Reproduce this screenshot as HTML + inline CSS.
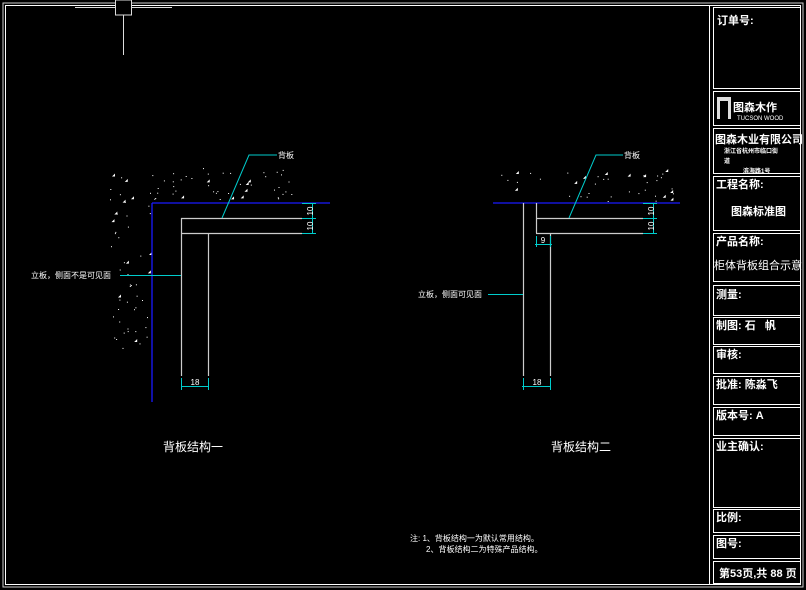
<!DOCTYPE html>
<html><head><meta charset="utf-8"><style>
html,body{margin:0;padding:0;background:#000;}
svg{display:block;}
text{font-family:"Liberation Sans","Noto Sans CJK SC",sans-serif;fill:#fff;}
.tb{font-weight:bold;font-size:11px;}
</style></head><body>
<svg id="s" width="806" height="590" viewBox="0 0 806 590" xmlns="http://www.w3.org/2000/svg">
<rect width="806" height="590" fill="#000"/>
<rect x="3" y="3" width="800" height="584" fill="none" stroke="#ccc" stroke-width="1"/>
<rect x="5.5" y="5.5" width="795" height="579" fill="none" stroke="#fff" stroke-width="1"/>
<line x1="75" y1="7.5" x2="172" y2="7.5" stroke="#ddd"/>
<rect x="115.5" y="0" width="16" height="15" fill="#000" stroke="#ddd"/>
<line x1="123.5" y1="15" x2="123.5" y2="55" stroke="#ddd"/>
<line x1="709.5" y1="5" x2="709.5" y2="585" stroke="#fff"/>
<g fill="none" stroke="#fff" stroke-width="1">
<rect x="713.5" y="7.5" width="87" height="81"/>
<rect x="713.5" y="91.5" width="87" height="34"/>
<rect x="713.5" y="128.5" width="87" height="45"/>
<rect x="713.5" y="176.5" width="87" height="54"/>
<rect x="713.5" y="233.5" width="87" height="48"/>
<rect x="713.5" y="285.5" width="87" height="30"/>
<rect x="713.5" y="317.5" width="87" height="27"/>
<rect x="713.5" y="346.5" width="87" height="27"/>
<rect x="713.5" y="376.5" width="87" height="28"/>
<rect x="713.5" y="407.5" width="87" height="28"/>
<rect x="713.5" y="438.5" width="87" height="69"/>
<rect x="713.5" y="509.5" width="87" height="23"/>
<rect x="713.5" y="535.5" width="87" height="23"/>
<rect x="713.5" y="561.5" width="87" height="22"/>
</g>
<text x="717" y="24" class="tb">订单号:</text>
<rect x="717" y="97" width="14" height="22" fill="#ddd"/>
<rect x="720" y="101" width="8" height="18" fill="#000"/>
<text x="733" y="111" class="tb" font-size="13">图森木作</text>
<text x="737" y="120" font-size="6">TUCSON WOOD</text>
<text x="715" y="143" font-size="11" font-weight="bold">图森木业有限公司</text>
<text x="724" y="153" font-size="6" font-weight="bold" fill="#dde">浙江省杭州市临口街</text>
<text x="724" y="163" font-size="6" font-weight="bold" fill="#dde">道</text>
<text x="743" y="173" font-size="6" font-weight="bold" fill="#dde">滨海路1号</text>
<text x="716" y="188" class="tb">工程名称:</text>
<text x="731" y="215" class="tb">图森标准图</text>
<text x="716" y="245" class="tb">产品名称:</text>
<text x="714" y="269" font-size="11">柜体背板组合示意</text>
<text x="716" y="298" class="tb">测量:</text>
<text x="716" y="329" class="tb">制图: 石&#160;&#160;&#160;帆</text>
<text x="716" y="358" class="tb">审核:</text>
<text x="716" y="388" class="tb">批准: 陈淼飞</text>
<text x="716" y="419" class="tb">版本号: A</text>
<text x="716" y="450" class="tb">业主确认:</text>
<text x="716" y="521" class="tb">比例:</text>
<text x="716" y="547" class="tb">图号:</text>
<text x="719" y="577" class="tb" font-size="10">第53页,共 88 页</text>

<g id="dots" fill="#fff"></g>

<g stroke="#1a1aff" stroke-width="1.3"><line x1="152" y1="203" x2="152" y2="402"/><line x1="152" y1="203" x2="330" y2="203"/></g>
<g stroke="#ccc" stroke-width="1.2" fill="none">
<line x1="181" y1="218.5" x2="302" y2="218.5"/><line x1="181" y1="233.5" x2="302" y2="233.5"/>
<line x1="181.5" y1="218" x2="181.5" y2="376"/><line x1="208.5" y1="233" x2="208.5" y2="376"/>
</g>
<g stroke="#0cc" stroke-width="1">
<line x1="312.5" y1="203" x2="312.5" y2="233"/>
<line x1="302" y1="203.5" x2="316" y2="203.5"/><line x1="302" y1="218.5" x2="316" y2="218.5"/><line x1="302" y1="233.5" x2="316" y2="233.5"/>
<line x1="181" y1="386.5" x2="209" y2="386.5"/><line x1="181.5" y1="378" x2="181.5" y2="390"/><line x1="208.5" y1="378" x2="208.5" y2="390"/>
<polyline points="222,218 249,155 277,155" fill="none"/>
<line x1="120" y1="275.5" x2="181" y2="275.5"/>
</g>
<text x="278" y="158" font-size="8">背板</text>
<text x="310" y="214" font-size="8" transform="rotate(-90 310 214)" text-anchor="middle" dy="3" dx="3">10</text>
<text x="310" y="229" font-size="8" transform="rotate(-90 310 229)" text-anchor="middle" dy="3" dx="3">10</text>
<text x="195" y="385" font-size="8" text-anchor="middle">18</text>
<text x="31" y="278" font-size="8">立板，侧面不是可见面</text>
<text x="163" y="451" font-size="12">背板结构一</text>

<line x1="493" y1="203" x2="680" y2="203" stroke="#1a1aff" stroke-width="1.3"/>
<g stroke="#ccc" stroke-width="1.2" fill="none">
<line x1="523.5" y1="203" x2="523.5" y2="376"/><line x1="550.5" y1="233" x2="550.5" y2="376"/>
<line x1="536.5" y1="203" x2="536.5" y2="233"/>
<line x1="536" y1="218.5" x2="643" y2="218.5"/><line x1="536" y1="233.5" x2="643" y2="233.5"/>
</g>
<g stroke="#0cc" stroke-width="1">
<line x1="653.5" y1="203" x2="653.5" y2="233"/>
<line x1="643" y1="203.5" x2="657" y2="203.5"/><line x1="643" y1="218.5" x2="657" y2="218.5"/><line x1="643" y1="233.5" x2="657" y2="233.5"/>
<line x1="535" y1="244.5" x2="552" y2="244.5"/><line x1="536.5" y1="236" x2="536.5" y2="247"/><line x1="550.5" y1="236" x2="550.5" y2="247"/>
<line x1="522" y1="386.5" x2="551" y2="386.5"/><line x1="523.5" y1="378" x2="523.5" y2="390"/><line x1="550.5" y1="378" x2="550.5" y2="390"/>
<polyline points="569,218 596,155 623,155" fill="none"/>
<line x1="488" y1="294.5" x2="523" y2="294.5"/>
</g>
<text x="624" y="158" font-size="8">背板</text>
<text x="651" y="214" font-size="8" transform="rotate(-90 651 214)" text-anchor="middle" dy="3" dx="3">10</text>
<text x="651" y="229" font-size="8" transform="rotate(-90 651 229)" text-anchor="middle" dy="3" dx="3">10</text>
<text x="543" y="243" font-size="8" text-anchor="middle">9</text>
<text x="537" y="385" font-size="8" text-anchor="middle">18</text>
<text x="418" y="297" font-size="8">立板，侧面可见面</text>
<text x="551" y="451" font-size="12">背板结构二</text>

<text x="410" y="541" font-size="8">注:  1、背板结构一为默认常用结构。</text>
<text x="426" y="552" font-size="8">2、背板结构二为特殊产品结构。</text>
</svg>
<script>
(function(){
var s=7,g=document.getElementById('dots'),h='';
function r(){s=(s*16807)%2147483647;return s/2147483647;}
function add(x0,x1,y0,y1,n){for(var i=0;i<n;i++){var x=x0+r()*(x1-x0),y=y0+r()*(y1-y0);
 if(r()<0.2){h+='<polygon points="'+x+','+y+' '+(x+3)+','+(y-3)+' '+(x+3)+','+y+'"/>';}
 else h+='<rect x="'+x.toFixed(1)+'" y="'+y.toFixed(1)+'" width="1" height="1"/>';}}
add(110,300,168,202,55);
add(110,150,202,350,45);
add(493,680,172,202,40);
g.innerHTML=h;
})();
</script>
</body></html>
